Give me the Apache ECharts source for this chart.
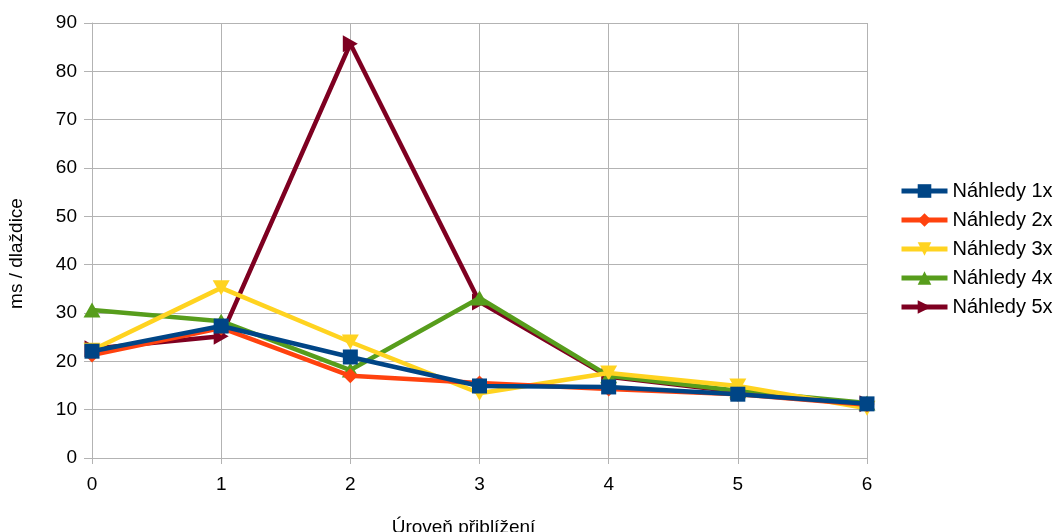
<!DOCTYPE html>
<html>
<head>
<meta charset="utf-8">
<script src="https://cdn.jsdelivr.net/npm/echarts@6/dist/echarts.min.js"></script>
<style>
  html, body { margin: 0; padding: 0; background: #ffffff; }
  #chart { width: 1057px; height: 532px; }
</style>
</head>
<body>
<div id="chart"></div>
<script>
// Zoom levels on the x axis
const zoomLevels = [0, 1, 2, 3, 4, 5, 6];

// Rendering time in ms per tile, one array per preview setting
const nahledy1x = [22.1, 27.3, 20.9, 14.9, 14.7, 13.2, 11.2];
const nahledy2x = [21.3, 26.9, 17.0, 15.5, 14.3, 13.2, 11.0];
const nahledy3x = [22.3, 35.2, 24.0, 13.4, 17.6, 14.9, 10.3];
const nahledy4x = [30.6, 28.3, 18.2, 33.1, 17.0, 13.9, 11.4];
const nahledy5x = [22.6, 25.2, 85.7, 32.3, 16.8, 13.7, 11.2];

const seriesNames = ['Náhledy 1x', 'Náhledy 2x', 'Náhledy 3x', 'Náhledy 4x', 'Náhledy 5x'];
const seriesData = [nahledy1x, nahledy2x, nahledy3x, nahledy4x, nahledy5x];
const colors = ['#004586', '#ff420e', '#ffd320', '#579d1c', '#7e0021'];
const symbols = [
  'rect',
  'diamond',
  'path://M0,0 L10,0 L5,9 Z',
  'triangle',
  'path://M0,0 L9,5 L0,10 Z'
];
const symbolSizes = [15, 15, [17, 15], [17, 15], [15, 17]];

const chart = echarts.init(document.getElementById('chart'), null, { renderer: 'canvas' });

const series = seriesNames.map((name, i) => ({
  name: name,
  type: 'line',
  data: zoomLevels.map((x, j) => [x, seriesData[i][j]]),
  symbol: symbols[i],
  symbolSize: symbolSizes[i],
  showAllSymbol: true,
  z: 10 - i,
  lineStyle: { color: colors[i], width: 4.5 },
  itemStyle: { color: colors[i] },
  emphasis: { disabled: true },
  animation: false
}));

const font = '"Liberation Sans", Arial, sans-serif';

chart.setOption({
  animation: false,
  color: colors,
  grid: {
    left: 92, right: 190, top: 23, bottom: 74,
    containLabel: false,
    outerBoundsMode: 'none'
  },
  legend: {
    orient: 'vertical',
    left: 894,
    top: 176,
    itemWidth: 46,
    itemHeight: 17,
    itemGap: 9,
    lineStyle: { width: 5 },
    textStyle: { fontFamily: font, fontSize: 20, lineHeight: 20, color: '#000000' },
    data: seriesNames
  },
  xAxis: {
    type: 'value',
    min: 0,
    max: 6,
    interval: 1,
    name: 'Úroveň přiblížení',
    nameLocation: 'middle',
    nameGap: 60,
    nameTextStyle: { fontFamily: font, fontSize: 19, color: '#000000', padding: [0, 32, 0, 0] },
    axisLine: { show: true, lineStyle: { color: '#b3b3b3', width: 1 } },
    axisTick: { show: true, length: 6, lineStyle: { color: '#b3b3b3' } },
    axisLabel: { fontFamily: font, fontSize: 19, color: '#000000', margin: 17 },
    splitLine: { show: true, lineStyle: { color: '#b3b3b3', width: 1 } }
  },
  yAxis: {
    type: 'value',
    min: 0,
    max: 90,
    interval: 10,
    name: 'ms / dlaždice',
    nameLocation: 'middle',
    nameGap: 66,
    nameRotate: 90,
    nameTextStyle: { fontFamily: font, fontSize: 19, color: '#000000', padding: [0, 26, 0, 0] },
    axisLine: { show: true, lineStyle: { color: '#b3b3b3', width: 1 } },
    axisTick: { show: true, length: 8, lineStyle: { color: '#b3b3b3' } },
    axisLabel: { fontFamily: font, fontSize: 19, color: '#000000', margin: 15 },
    splitLine: { show: true, lineStyle: { color: '#b3b3b3', width: 1 } }
  },
  series: series
});
</script>
</body>
</html>
